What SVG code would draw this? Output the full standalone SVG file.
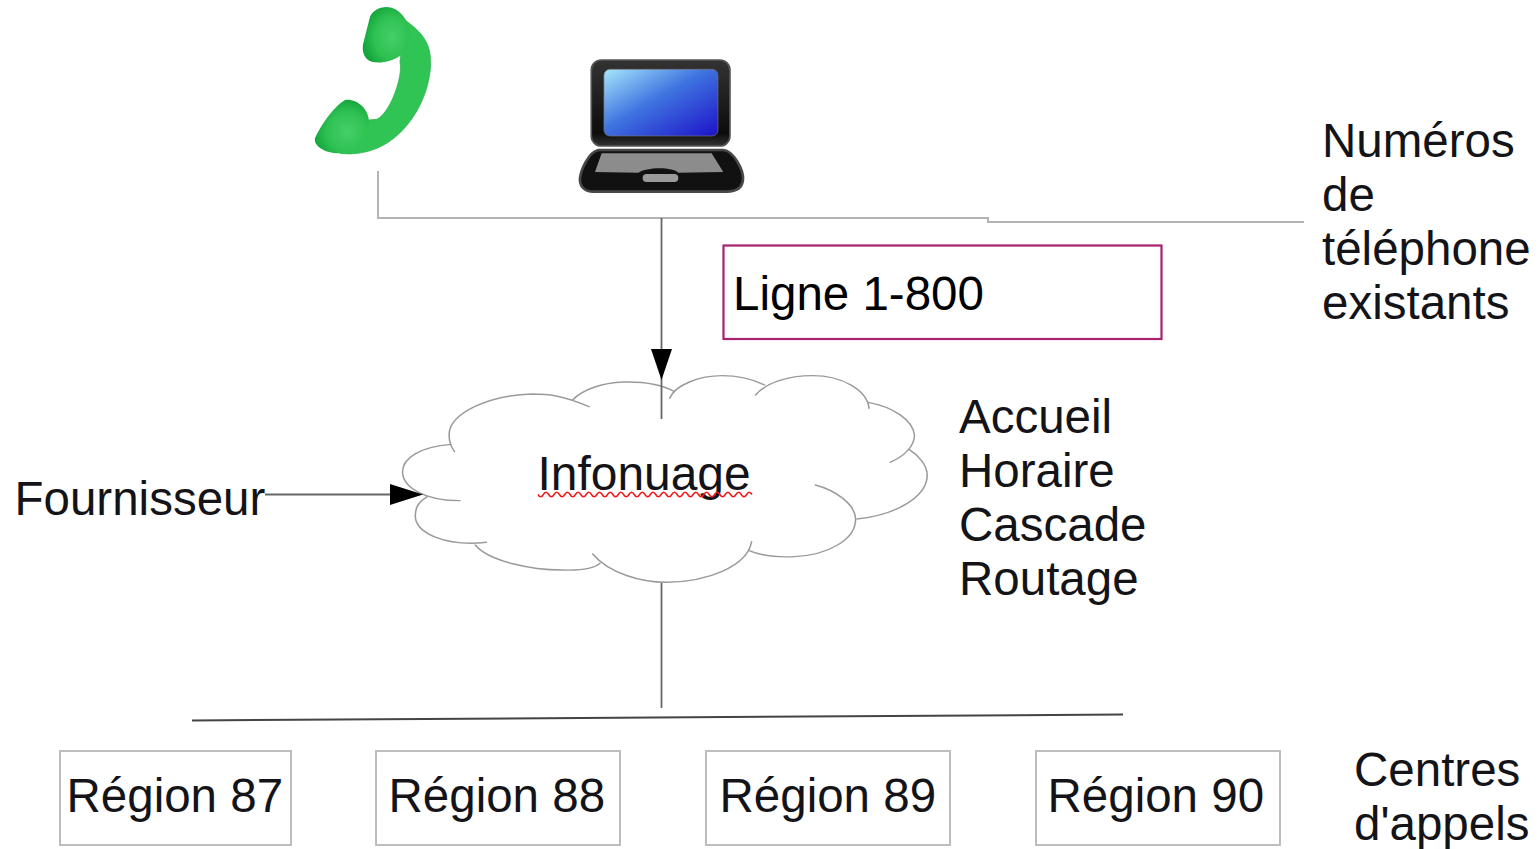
<svg xmlns="http://www.w3.org/2000/svg" width="1539" height="849" viewBox="0 0 1539 849">
<style>
text{font-family:"Liberation Sans",Arial,sans-serif;font-size:47.5px;fill:#141418}
.box{fill:#fff;stroke:#bdbdbd;stroke-width:2}
.cl{fill:none;stroke:#9a9a9a;stroke-width:4.200;stroke-linecap:round}
.gl{fill:none;stroke:#b4b4b4;stroke-width:2}
.dl{fill:none;stroke:#666;stroke-width:1.800}
</style>
<defs>
<linearGradient id="scr" x1="0" y1="0" x2="1" y2="1"><stop offset="0" stop-color="#a8e6fb"/><stop offset=".45" stop-color="#3f74e0"/><stop offset="1" stop-color="#1c12c8"/></linearGradient>
<linearGradient id="lid" x1="0" y1="0" x2="0" y2="1"><stop offset="0" stop-color="#333"/><stop offset=".85" stop-color="#0c0c0c"/><stop offset="1" stop-color="#333"/></linearGradient>
<radialGradient id="ear1" cx=".62" cy=".55" r=".62"><stop offset="0" stop-color="#45cf68"/><stop offset=".6" stop-color="#2fc152"/><stop offset="1" stop-color="#12a53a"/></radialGradient>
<radialGradient id="ear2" cx=".6" cy=".6" r=".62"><stop offset="0" stop-color="#45cf68"/><stop offset=".6" stop-color="#2fc152"/><stop offset="1" stop-color="#12a53a"/></radialGradient>
</defs>
<g id="phone" transform="translate(290 0) scale(.3333)">
<path d="M345,60C400,100 422,130 422,190C420,280 370,380 290,430C240,460 190,465 150,460L235,360L260,358C300,340 340,230 330,185Z" fill="#2fc453" stroke="#1fae44" stroke-width="2"/>
<path d="M240,50C250,25 290,10 320,30C350,50 365,90 360,125C350,170 290,195 245,185C220,178 215,150 220,130Z" fill="url(#ear1)"/>
<path d="M75,415C90,380 130,320 165,300C200,295 235,325 237,365C235,410 190,455 150,460C110,462 70,440 75,415Z" fill="url(#ear2)"/>
</g>
<g id="laptop" transform="translate(290 0) scale(.3333)">
<rect x="904" y="180" width="416" height="258" rx="30" fill="url(#lid)" stroke="#555" stroke-width="5"/>
<rect x="942" y="208" width="342" height="200" rx="18" fill="url(#scr)" stroke="#777" stroke-width="2"/>
<path d="M925,450H1300C1330,452 1362,510 1359,540C1357,562 1340,575 1310,575H910C885,575 868,560 870,535C873,510 895,457 925,450Z" fill="#111" stroke="#484848" stroke-width="8"/>
<path d="M935,460H1265L1300,516L1165,518C1150,500 1070,500 1045,518L915,516Z" fill="#8c8c8c"/>
<rect x="1058" y="522" width="107" height="24" rx="12" fill="#9a9a9a"/>
</g>
<g id="ligne">
<rect x="723.500" y="245.500" width="438" height="93.500" fill="#fff" stroke="#a8206e" stroke-width="2.200"/>
<text x="733" y="310" style="fill:#000">Ligne 1-800</text>
</g>
<g id="numeros">
<text x="1322" y="157">Numéros</text>
<text x="1322" y="211">de</text>
<text x="1322" y="265">téléphone</text>
<text x="1322" y="319">existants</text>
</g>
<g id="cloud">
<g transform="translate(380 340) scale(.3636 .3333)">
<path class="cl" d="M575,200C500,165 460,162 420,162C300,165 190,220 190,285C190,305 195,320 205,335"/>
<path class="cl" d="M195,313C110,320 62,355 62,395C62,440 120,482 220,482"/>
<path class="cl" d="M130,470C100,490 97,510 97,530C100,580 180,620 293,607"/>
<path class="cl" d="M262,615C300,665 420,690 500,690C550,692 590,685 605,670"/>
<path class="cl" d="M585,642C630,700 720,728 790,727C900,725 1010,680 1022,605"/>
<path class="cl" d="M1015,632C1050,648 1100,652 1140,650C1230,645 1310,600 1308,535C1305,490 1250,450 1197,435"/>
<path class="cl" d="M1312,537C1420,525 1505,470 1505,405C1505,375 1480,345 1455,328"/>
<path class="cl" d="M1403,367C1440,350 1470,320 1470,285C1465,240 1410,200 1342,187"/>
<path class="cl" d="M1345,205C1340,150 1270,107 1190,107C1120,107 1060,130 1033,165"/>
<path class="cl" d="M1058,135C1020,115 980,107 940,107C880,107 810,135 797,175"/>
<path class="cl" d="M810,155C770,130 710,125 670,126C610,128 555,150 530,180"/>
</g>
<text x="537.500" y="490" style="font-size:47.900px">Infonuage</text>
<path d="M538,494.500q2.700,4.500 5.350,0t5.350,0t5.350,0t5.350,0t5.350,0t5.350,0t5.350,0t5.350,0t5.350,0t5.350,0t5.350,0t5.350,0t5.350,0t5.350,0t5.350,0t5.350,0t5.350,0t5.350,0t5.350,0t5.350,0t5.350,0t5.350,0t5.350,0t5.350,0t5.350,0t5.350,0t5.350,0t5.350,0t5.350,0t5.350,0t5.350,0t5.350,0t5.350,0t5.350,0t5.350,0t5.350,0t5.350,0t5.350,0t5.350,0t5.350,0" fill="none" stroke="#f01818" stroke-width="1.500"/>
</g>
<g id="fournisseur"><text x="14.500" y="515">Fournisseur</text></g>
<g id="fonctions">
<text x="959" y="433">Accueil</text>
<text x="959" y="487">Horaire</text>
<text x="959" y="541">Cascade</text>
<text x="959" y="595">Routage</text>
</g>
<g id="region87"><rect class="box" x="60" y="751" width="231" height="94"/><text x="66.500" y="812">Région 87</text></g>
<g id="region88"><rect class="box" x="376" y="751" width="244" height="94"/><text x="388.500" y="812">Région 88</text></g>
<g id="region89"><rect class="box" x="706" y="751" width="244" height="94"/><text x="719.500" y="812">Région 89</text></g>
<g id="region90"><rect class="box" x="1036" y="751" width="244" height="94"/><text x="1047.500" y="812">Région 90</text></g>
<g id="centres">
<text x="1354" y="786">Centres</text>
<text x="1354" y="840">d'appels</text>
</g>
<g id="connectors">
<path class="gl" d="M378,171V218H988V222H1304"/>
<path class="dl" d="M661.500,218V419"/>
<polygon points="651,349 672,349 661.500,380" fill="#000"/>
<path class="dl" d="M265,494.500H395"/>
<polygon points="390,484 390,505 423,494.500" fill="#000"/>
<path class="dl" d="M661.500,583V708"/>
<path d="M192,720.500L1123,714.500" fill="none" stroke="#444" stroke-width="2"/>
</g>
</svg>
